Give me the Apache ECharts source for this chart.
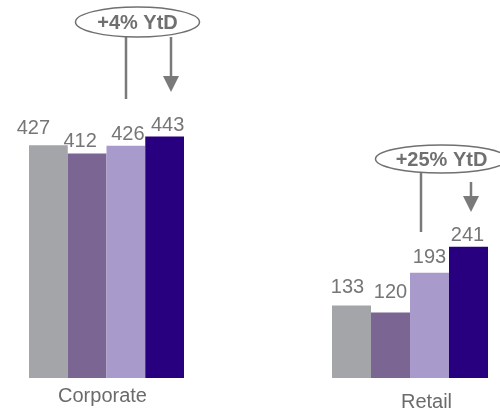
<!DOCTYPE html>
<html><head><meta charset="utf-8">
<script src="https://cdn.jsdelivr.net/npm/echarts@6/dist/echarts.min.js"></script>
<style>html,body{margin:0;padding:0;background:#fff}#c{width:500px;height:415px}</style>
</head><body><div id="c"></div>
<script>
// ---- data ----
var categories = ['Corporate', 'Retail'];
var seriesNames = ['P1', 'P2', 'P3', 'P4'];
var corporateValues = [427, 412, 426, 443];
var retailValues = [133, 120, 193, 241];
var annotations = ['+4% YtD', '+25% YtD'];

// ---- styles ----
var colors = ['#A4A5A8', '#7B6592', '#A89BCB', '#28007F'];
var corpLabelOffsets = [[-15, -6], [-7, -1], [2, 0], [3, 0]];
var retailLabelOffsets = [[-4, -7], [0, -9], [0, -4], [-1, 0]];
var FONT = '"Liberation Sans", Arial, sans-serif';

var chart = echarts.init(document.getElementById('c'), null, {renderer: 'canvas'});

function makeSeries(values, offsets, idx) {
  return values.map(function (v, i) {
    return {
      type: 'bar', name: seriesNames[i],
      xAxisIndex: idx, yAxisIndex: idx,
      barGap: '0%', barCategoryGap: '0%',
      itemStyle: {color: colors[i]},
      label: {show: true, position: 'top', distance: 1, offset: offsets[i],
        fontSize: 20, fontFamily: FONT, color: '#767676'},
      data: [v], silent: true, animation: false
    };
  });
}

var grids = [
  {left: 29, width: 155, top: 51, height: 327},
  {left: 332, width: 156, top: 51, height: 327}
];
var xAxes = [0, 1].map(function (i) {
  return {
    type: 'category', gridIndex: i, data: [categories[i]],
    axisLine: {show: false}, axisTick: {show: false}, splitLine: {show: false},
    axisLabel: {fontSize: 20, fontFamily: FONT, color: '#6b6b6b',
      margin: i === 0 ? 8 : 14, padding: i === 0 ? [0, 8, 0, 0] : [0, 0, 0, 33]}
  };
});
var yAxes = [0, 1].map(function (i) {
  return {type: 'value', gridIndex: i, min: 0, max: 600, show: false, splitLine: {show: false}};
});

var lineStyle = {stroke: '#7a7a7a', lineWidth: 2.5};
function annotation(cx, cy, rx, ry, text, lineX, lineY1, lineY2, arrX, arrY1, arrTip) {
  return [
    {type: 'ellipse', shape: {cx: cx, cy: cy, rx: rx, ry: ry},
      style: {fill: '#fff', stroke: '#707070', lineWidth: 1.5}, z: 10},
    {type: 'text', x: cx, y: cy + 1, z: 11,
      style: {text: text, fill: '#707070', font: 'bold 20px ' + FONT, align: 'center', verticalAlign: 'middle'}},
    {type: 'line', shape: {x1: lineX, y1: lineY1, x2: lineX, y2: lineY2}, style: lineStyle, z: 9},
    {type: 'line', shape: {x1: arrX, y1: arrY1, x2: arrX, y2: arrTip - 14}, style: lineStyle, z: 9},
    {type: 'polygon', shape: {points: [[arrX - 8, arrTip - 16], [arrX + 8, arrTip - 16], [arrX, arrTip]]},
      style: {fill: '#7a7a7a'}, z: 9}
  ];
}

chart.setOption({
  backgroundColor: '#fff',
  animation: false,
  grid: grids,
  xAxis: xAxes,
  yAxis: yAxes,
  series: makeSeries(corporateValues, corpLabelOffsets, 0).concat(makeSeries(retailValues, retailLabelOffsets, 1)),
  graphic: annotation(137.5, 22, 62, 15, annotations[0], 126, 37, 99, 171, 37, 92)
    .concat(annotation(441.5, 159, 66, 14, annotations[1], 421, 173, 232, 471, 182, 212))
});
</script></body></html>
